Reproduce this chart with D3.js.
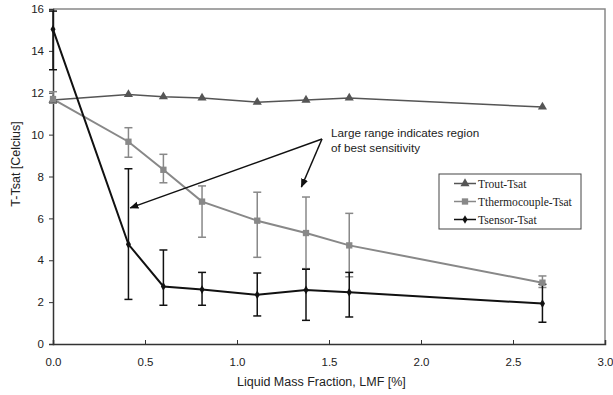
<!DOCTYPE html>
<html lang="en">

<head>
    <meta charset="UTF-8">
    <title>T-Tsat vs LMF</title>
    <script src="https://d3js.org/d3.v7.min.js"></script>
    <style>
        body {
            margin: 0;
            padding: 0;
            background: #fff;
            overflow: hidden;
        }

        .tick-label {
            font-family: "Liberation Sans", Arial, sans-serif;
            font-size: 11.5px;
            fill: #222;
        }

        .note-label {
            font-family: "Liberation Sans", Arial, sans-serif;
            font-size: 11.7px;
            fill: #222;
        }

        .axis-title {
            font-family: "Liberation Sans", Arial, sans-serif;
            font-size: 12.5px;
            fill: #222;
        }

        .legend-label {
            font-family: "Liberation Serif", "Times New Roman", serif;
            font-size: 11.6px;
            fill: #222;
        }
    </style>
</head>

<body>
<script>
    // data
    const lmf = [0.0, 0.41, 0.60, 0.81, 1.11, 1.375, 1.61, 2.66];

    const troutTsat = [11.65, 11.92, 11.81, 11.75, 11.55, 11.65, 11.75, 11.32];

    const thermoTsat = [11.7, 9.66, 8.32, 6.8, 5.89, 5.3, 4.71, 2.93];
    const thermoLow = [11.5, 8.92, 7.7, 5.1, 4.14, 3.6, 3.21, 2.7];
    const thermoHigh = [12.05, 10.33, 9.06, 7.55, 7.25, 7.02, 6.24, 3.25];

    const sensorTsat = [15.03, 4.76, 2.75, 2.6, 2.35, 2.58, 2.47, 1.93];
    const sensorLow = [13.1, 2.13, 1.85, 1.85, 1.34, 1.13, 1.29, 1.04];
    const sensorHigh = [15.9, 8.37, 4.49, 3.42, 3.39, 3.57, 3.42, 2.85];

    const xTicks = [0, 0.5, 1.0, 1.5, 2.0, 2.5, 3.0];
    const yTicks = [0, 2, 4, 6, 8, 10, 12, 14, 16];

    const seriesNames = ["Trout-Tsat", "Tthermocouple-Tsat", "Tsensor-Tsat"];
    const noteLines = ["Large range indicates region", "of best sensitivity"];

    const width = 613, height = 395;
    const margin = { top: 9, right: 8, bottom: 51, left: 53 };

    const svg = d3.select("body").append("svg")
        .attr("width", width)
        .attr("height", height);

    const x = d3.scaleLinear().domain([0, 3]).range([margin.left, width - margin.right]);
    const y = d3.scaleLinear().domain([0, 16]).range([height - margin.bottom, margin.top]);

    // plot frame (top and right in light gray)
    svg.append("path")
        .attr("d", `M${x(0)},${y(16)}H${x(3)}V${y(0)}`)
        .attr("fill", "none")
        .attr("stroke", "#888")
        .attr("stroke-width", 1.5);

    // y axis
    const yAxis = svg.append("g")
        .attr("transform", `translate(${x(0)},0)`)
        .call(d3.axisLeft(y).tickValues(yTicks).tickSize(4).tickPadding(5).tickFormat(d3.format("d")));
    yAxis.select(".domain").attr("stroke", "#333").attr("stroke-width", 1.5);
    yAxis.selectAll(".tick line").attr("stroke", "#333");
    yAxis.selectAll(".tick text").attr("class", "tick-label").attr("font-size", null).attr("font-family", null);

    // x axis, ticks point inward
    const xAxis = svg.append("g")
        .attr("transform", `translate(0,${y(0)})`)
        .call(d3.axisBottom(x).tickValues(xTicks).tickSize(-4).tickPadding(14).tickFormat(d3.format(".1f")));
    xAxis.select(".domain").attr("stroke", "#333").attr("stroke-width", 1.5);
    xAxis.selectAll(".tick line").attr("stroke", "#333");
    xAxis.selectAll(".tick text").attr("class", "tick-label").attr("font-size", null).attr("font-family", null);

    // axis titles
    svg.append("text")
        .attr("class", "axis-title")
        .attr("x", 237)
        .attr("y", 386)
        .text("Liquid Mass Fraction, LMF [%]");

    svg.append("text")
        .attr("class", "axis-title")
        .attr("transform", `translate(20,${y(8.6)}) rotate(-90)`)
        .attr("text-anchor", "middle")
        .text("T-Tsat [Celcius]");

    const plot = svg.append("g");

    function errorBars(low, high, color) {
        const g = plot.append("g").attr("stroke", color).attr("stroke-width", 1.5);
        lmf.forEach((v, i) => {
            const cx = x(v);
            g.append("line").attr("x1", cx).attr("x2", cx).attr("y1", y(low[i])).attr("y2", y(high[i]));
            g.append("line").attr("x1", cx - 4).attr("x2", cx + 4).attr("y1", y(low[i])).attr("y2", y(low[i]));
            g.append("line").attr("x1", cx - 4).attr("x2", cx + 4).attr("y1", y(high[i])).attr("y2", y(high[i]));
        });
    }

    function seriesLine(values, color, widthPx) {
        plot.append("path")
            .datum(values)
            .attr("fill", "none")
            .attr("stroke", color)
            .attr("stroke-width", widthPx)
            .attr("d", d3.line().x((d, i) => x(lmf[i])).y(d => y(d)));
    }

    const colors = ["#555", "#888", "#111"];
    const symbols = [d3.symbolTriangle, d3.symbolSquare, d3.symbolDiamond];
    const symbolSizes = [36, 40, 22];

    function markers(values, k) {
        plot.append("g").selectAll("path")
            .data(values)
            .join("path")
            .attr("transform", (d, i) => `translate(${x(lmf[i])},${y(d)})`)
            .attr("d", d3.symbol().type(symbols[k]).size(symbolSizes[k]))
            .attr("fill", colors[k]);
    }

    errorBars(thermoLow, thermoHigh, colors[1]);
    errorBars(sensorLow, sensorHigh, colors[2]);

    seriesLine(troutTsat, colors[0], 1.5);
    seriesLine(thermoTsat, colors[1], 2);
    seriesLine(sensorTsat, colors[2], 2);

    markers(troutTsat, 0);
    markers(thermoTsat, 1);
    markers(sensorTsat, 2);

    // annotation with two arrows
    svg.append("defs").append("marker")
        .attr("id", "arrow")
        .attr("viewBox", "0 0 10 10")
        .attr("refX", 9)
        .attr("refY", 5)
        .attr("markerWidth", 6)
        .attr("markerHeight", 6)
        .attr("orient", "auto")
        .append("path")
        .attr("d", "M0,1L10,5L0,9z")
        .attr("fill", "#111");

    const note = svg.append("text")
        .attr("class", "note-label")
        .attr("x", 331)
        .attr("y", 137);
    noteLines.forEach((t, i) => {
        note.append("tspan").attr("x", 331).attr("dy", i === 0 ? 0 : 14.5).text(t);
    });

    const arrowFrom = [322, 139];
    const arrowTo = [[x(0.42), y(6.5)], [x(1.35), y(7.5)]];
    arrowTo.forEach(p => {
        svg.append("line")
            .attr("x1", arrowFrom[0]).attr("y1", arrowFrom[1])
            .attr("x2", p[0]).attr("y2", p[1])
            .attr("stroke", "#111")
            .attr("stroke-width", 1.5)
            .attr("marker-end", "url(#arrow)");
    });

    // legend
    const legend = svg.append("g").attr("transform", "translate(439,174)");
    legend.append("rect")
        .attr("width", 142)
        .attr("height", 55)
        .attr("fill", "#fff")
        .attr("stroke", "#444")
        .attr("stroke-width", 1);

    seriesNames.forEach((name, k) => {
        const ly = 9.5 + k * 18;
        legend.append("line")
            .attr("x1", 15).attr("x2", 37)
            .attr("y1", ly).attr("y2", ly)
            .attr("stroke", colors[k])
            .attr("stroke-width", 1.5);
        legend.append("path")
            .attr("transform", `translate(26,${ly})`)
            .attr("d", d3.symbol().type(symbols[k]).size(symbolSizes[k]))
            .attr("fill", colors[k]);
        legend.append("text")
            .attr("class", "legend-label")
            .attr("x", 39)
            .attr("y", ly + 4)
            .text(name);
    });
</script>
</body>

</html>
